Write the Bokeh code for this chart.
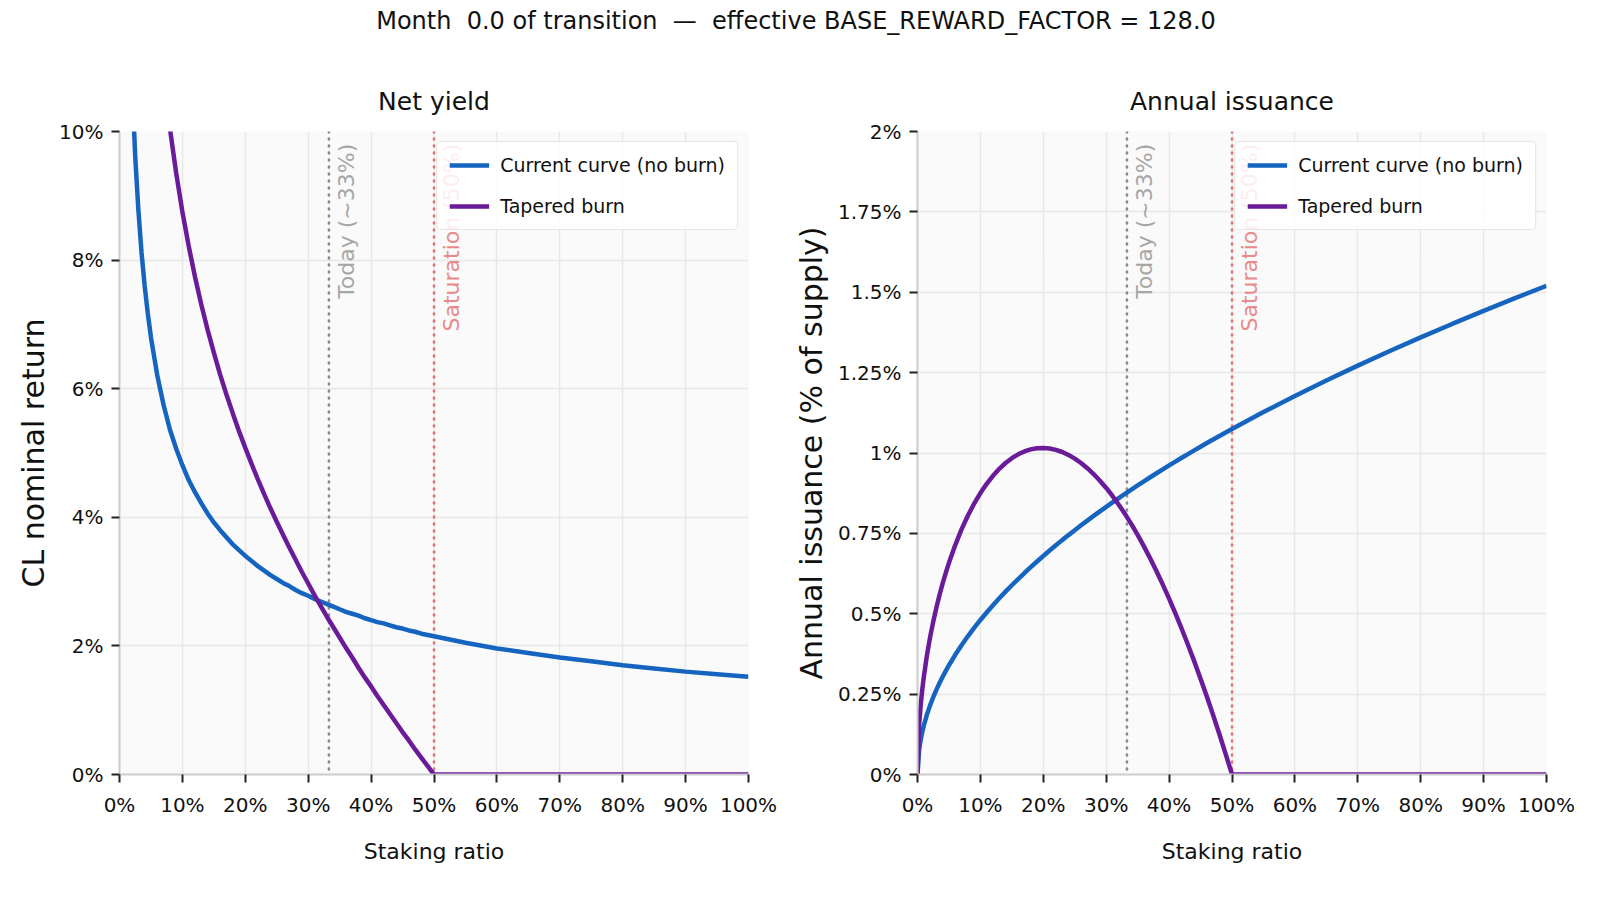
import math
from bokeh.plotting import figure
from bokeh.models import Span, Label, FixedTicker, CustomJSTickFormatter, Div, Range1d
from bokeh.layouts import column, row
from bokeh.embed import file_html
from bokeh.resources import INLINE

# ---------------- data ----------------
SUPTITLE = "Month  0.0 of transition  \u2014  effective BASE_REWARD_FACTOR = 128.0"

# staking ratio, % of supply staked
STAKING = [0, 0.25, 0.5, 0.75, 1, 1.5, 2, 2.5, 3, 3.5, 4, 4.5, 5, 6, 7, 8, 9,
           10, 11, 12, 13, 14, 15, 16, 17, 18, 19, 20, 21, 22, 23, 24, 25, 26, 27, 28, 29,
           30, 31, 32, 33, 34, 35, 36, 37, 38, 39, 40, 41, 42, 43, 44, 45, 46, 47, 48, 49,
           50, 55, 60, 65, 70, 75, 80, 85, 90, 95, 100]
YIELD_STAKING = STAKING[1:]

# Net yield (CL nominal return, %)
YIELD_CURRENT = [30.4, 21.5, 17.55, 15.2, 12.41, 10.75, 9.61, 8.78, 8.12, 7.60, 7.17, 6.80,
                 6.21, 5.75, 5.37, 5.07,
                 4.81, 4.58, 4.39, 4.22, 4.06, 3.92, 3.80, 3.69, 3.58, 3.49,
                 3.40, 3.32, 3.24, 3.17, 3.10, 3.04, 2.98, 2.93, 2.87, 2.82,
                 2.78, 2.73, 2.69, 2.65, 2.61, 2.57, 2.53, 2.50, 2.47, 2.43,
                 2.40, 2.37, 2.35, 2.32, 2.29, 2.27, 2.24, 2.22, 2.19, 2.17,
                 2.15, 2.05, 1.96, 1.89, 1.82, 1.76, 1.70, 1.65, 1.60, 1.56, 1.52]
YIELD_TAPERED = [60.8, 42.96, 35.03, 30.31, 24.70, 21.33, 19.01, 17.30, 15.95, 14.86, 13.94, 13.17,
                 11.89, 10.89, 10.06, 9.36,
                 8.75, 8.22, 7.74, 7.31, 6.92, 6.56, 6.22, 5.91, 5.62, 5.34,
                 5.08, 4.83, 4.59, 4.36, 4.14, 3.93, 3.73, 3.53, 3.34, 3.15,
                 2.97, 2.79, 2.62, 2.45, 2.29, 2.13, 1.97, 1.82, 1.66, 1.51,
                 1.37, 1.22, 1.08, 0.94, 0.80, 0.66, 0.53, 0.39, 0.26, 0.13,
                 0.0, 0.0, 0.0, 0.0, 0.0, 0.0, 0.0, 0.0, 0.0, 0.0, 0.0]

# Annual issuance (% of supply)
ISSUANCE_CURRENT = [0.0, 0.076, 0.1075, 0.1316, 0.152, 0.1862, 0.215, 0.2403, 0.2633, 0.2844,
                    0.304, 0.3224, 0.3399, 0.3723, 0.4022, 0.4299, 0.456,
                    0.4807, 0.5041, 0.5265, 0.548, 0.5687, 0.5887, 0.608, 0.6267, 0.6449, 0.6626,
                    0.6798, 0.6966, 0.7129, 0.729, 0.7446, 0.76, 0.7751, 0.7898, 0.8043, 0.8185,
                    0.8325, 0.8463, 0.8598, 0.8732, 0.8863, 0.8992, 0.912, 0.9246, 0.937, 0.9492,
                    0.9613, 0.9733, 0.9851, 0.9967, 1.0083, 1.0196, 1.0309, 1.0421, 1.0531, 1.064,
                    1.0748, 1.1273, 1.1774, 1.2255, 1.2717, 1.3164, 1.3595, 1.4014, 1.442, 1.4815,
                    1.52]
ISSUANCE_TAPERED = [0.0, 0.1519, 0.2148, 0.2627, 0.3031, 0.3705, 0.4266, 0.4752, 0.5189, 0.5583,
                    0.5942, 0.6274, 0.6583, 0.7136, 0.7623, 0.8048, 0.8423,
                    0.8754, 0.9042, 0.9292, 0.9507, 0.9689, 0.9839, 0.9959, 1.0049, 1.0112, 1.0148,
                    1.0156, 1.014, 1.0097, 1.0031, 0.994, 0.9826, 0.9689, 0.9528, 0.9345, 0.9139,
                    0.8912, 0.8663, 0.8392, 0.81, 0.7786, 0.7451, 0.7096, 0.6721, 0.6324, 0.5906,
                    0.5469, 0.5012, 0.4534, 0.4036, 0.3519, 0.2981, 0.2424, 0.1847, 0.1251, 0.0635,
                    0.0, 0.0, 0.0, 0.0, 0.0, 0.0, 0.0, 0.0, 0.0, 0.0, 0.0]

TODAY = 33.3
SATURATION = 50.0
TODAY_LABEL = "Today (~33%)"
SATURATION_LABEL = "Saturation (50%)"

X_TICKS = [0, 10, 20, 30, 40, 50, 60, 70, 80, 90, 100]
YIELD_TICKS = [0, 2, 4, 6, 8, 10]
ISSUANCE_TICKS = [0, 0.25, 0.5, 0.75, 1, 1.25, 1.5, 1.75, 2]

SERIES_NAMES = ["Current curve (no burn)", "Tapered burn"]

# ---------------- styling ----------------
BLUE = "#1565C0"
PURPLE = "#6A1B9A"
FONT = "DejaVu Sans"
INK = "#111111"

pct = CustomJSTickFormatter(code="return (Math.round(tick*100)/100) + '%';")


def make_fig(title, ylabel, y_end, y_ticks, border_left, ylabel_standoff,
             xs, ys_cur, ys_tap):
    p = figure(frame_width=629, frame_height=643,
               x_range=Range1d(0, 100), y_range=Range1d(0, y_end),
               output_backend="svg", toolbar_location=None,
               min_border_left=border_left, min_border_right=30,
               min_border_top=73, min_border_bottom=110,
               background_fill_color="#fafafa", border_fill_color="white",
               outline_line_color=None)
    p.title.text = title
    p.title.text_font = FONT
    p.title.text_font_size = "25px"
    p.title.text_font_style = "normal"
    p.title.text_color = INK
    p.title.align = "center"
    p.title.standoff = 32

    p.xaxis.axis_label = "Staking ratio"
    p.yaxis.axis_label = ylabel
    p.xaxis.ticker = FixedTicker(ticks=X_TICKS)
    p.yaxis.ticker = FixedTicker(ticks=y_ticks)
    p.xaxis.formatter = pct
    p.yaxis.formatter = pct
    for ax in (p.xaxis, p.yaxis):
        ax.major_label_text_font = FONT
        ax.major_label_text_font_size = "20px"
        ax.major_label_text_color = INK
        ax.axis_line_color = "#cccccc"
        ax.axis_line_width = 2
        ax.major_tick_line_color = "#222222"
        ax.major_tick_line_width = 2
        ax.major_tick_out = 8
        ax.major_tick_in = 0
        ax.minor_tick_line_color = None
        ax.axis_label_text_font = FONT
        ax.axis_label_text_font_style = "normal"
        ax.axis_label_text_color = INK
    p.xaxis.axis_label_text_font_size = "22px"
    p.xaxis.major_label_standoff = 10
    p.xaxis.axis_label_standoff = 19
    p.yaxis.axis_label_text_font_size = "30px"
    p.yaxis.major_label_standoff = 8
    p.yaxis.axis_label_standoff = ylabel_standoff

    p.grid.grid_line_color = "#e8e8e8"
    p.grid.grid_line_width = 1.5

    p.add_layout(Span(location=TODAY, dimension="height", line_color="#8c8c8c",
                      line_dash="1 6", line_width=2.6, line_cap="round", level="underlay"))
    p.add_layout(Span(location=SATURATION, dimension="height", line_color="#e57373",
                      line_dash="1 6", line_width=2.6, line_cap="round", level="underlay"))
    p.add_layout(Label(x=TODAY, y=y_end * 0.981, x_offset=5, text=TODAY_LABEL,
                       angle=math.pi / 2, text_align="right", text_baseline="top",
                       text_color="#a6a6a6", text_font=FONT, text_font_size="22px"))
    p.add_layout(Label(x=SATURATION, y=y_end * 0.981, x_offset=5, text=SATURATION_LABEL,
                       angle=math.pi / 2, text_align="right", text_baseline="top",
                       text_color="#e88a8a", text_font=FONT, text_font_size="22px"))

    p.line(xs, ys_cur, line_color=BLUE, line_width=4.5, legend_label=SERIES_NAMES[0])
    p.line(xs, ys_tap, line_color=PURPLE, line_width=4.5, legend_label=SERIES_NAMES[1])

    lg = p.legend[0]
    lg.location = "top_right"
    lg.label_text_font = FONT
    lg.label_text_font_size = "19px"
    lg.label_text_color = INK
    lg.glyph_width = 40
    lg.glyph_height = 22
    lg.label_height = 22
    lg.label_standoff = 11
    lg.spacing = 19
    lg.padding = 12
    lg.margin = 10
    lg.border_line_color = "#cccccc"
    lg.border_line_width = 1.5
    lg.background_fill_color = "white"
    lg.background_fill_alpha = 0.85
    if "border_radius" in lg.properties():
        lg.border_radius = 5
    return p


p1 = make_fig("Net yield", "CL nominal return", 10, YIELD_TICKS, 111, 5,
              YIELD_STAKING, YIELD_CURRENT, YIELD_TAPERED)
p2 = make_fig("Annual issuance", "Annual issuance (% of supply)", 2, ISSUANCE_TICKS, 139, 6,
              STAKING, ISSUANCE_CURRENT, ISSUANCE_TAPERED)

head = Div(text=SUPTITLE, width=1576, height=50, margin=0,
           styles={"font-family": FONT, "font-size": "24px", "text-align": "center",
                   "width": "1576px", "line-height": "26px", "white-space": "pre",
                   "color": INK})

layout = column(head, row(p1, p2), margin=(8, 8, 8, 8))

open("out.html", "w").write(file_html(layout, INLINE))
